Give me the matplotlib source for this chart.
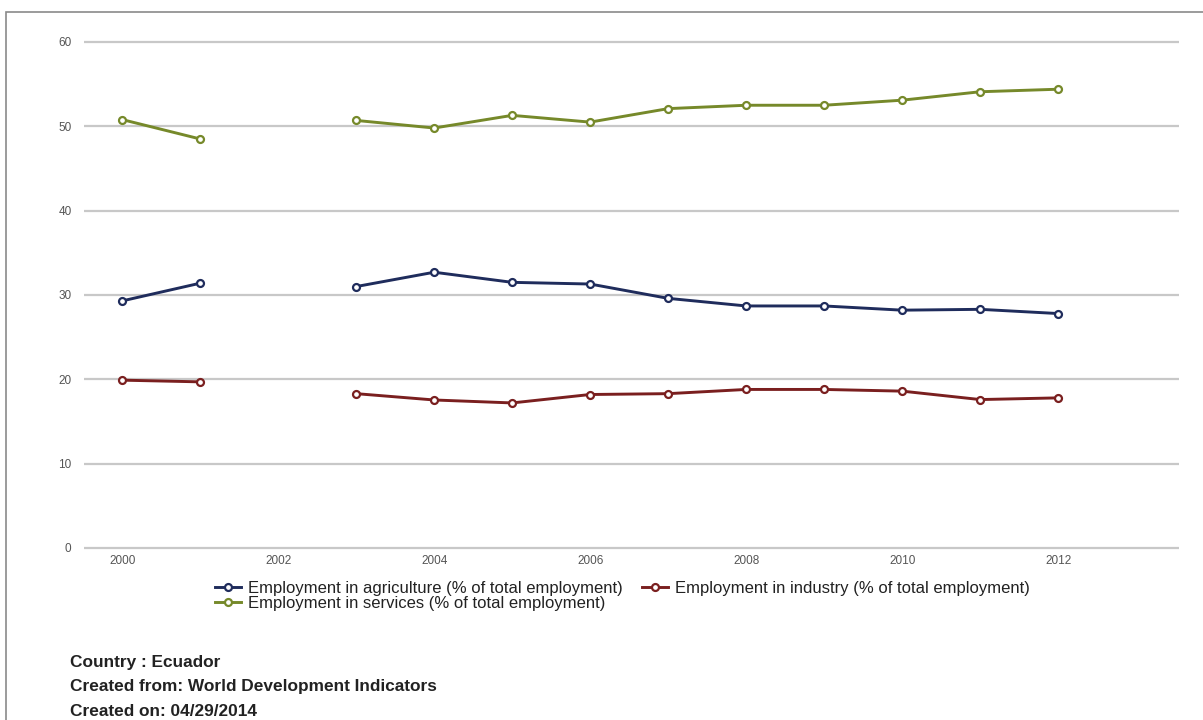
import numpy as np
import matplotlib
matplotlib.use("Agg")
import matplotlib.pyplot as plt
from matplotlib.patches import Rectangle

plt.rcParams['font.family'] = ['Liberation Sans', 'DejaVu Sans']

years = [2000, 2001, 2002, 2003, 2004, 2005, 2006, 2007, 2008, 2009, 2010, 2011, 2012]
agriculture = [29.3, 31.4, np.nan, 31.0, 32.7, 31.5, 31.3, 29.6, 28.7, 28.7, 28.2, 28.3, 27.8]
industry = [19.9, 19.7, np.nan, 18.3, 17.55, 17.2, 18.2, 18.3, 18.8, 18.8, 18.6, 17.6, 17.8]
services = [50.8, 48.5, np.nan, 50.7, 49.8, 51.3, 50.5, 52.1, 52.5, 52.5, 53.1, 54.1, 54.4]

labels = ["Employment in agriculture (% of total employment)",
          "Employment in industry (% of total employment)",
          "Employment in services (% of total employment)"]
colors = ["#1f2c5c", "#7a1f1f", "#76892a"]

y_ticks = [0, 10, 20, 30, 40, 50, 60]
x_ticks = [2000, 2002, 2004, 2006, 2008, 2010, 2012]

W, H = 1203, 720
fig = plt.figure(figsize=(W / 100, H / 100), dpi=100)
fig.patch.set_facecolor("white")

# outer frame
fig.add_artist(Rectangle((6 / W, -0.01), 1.2, 1 - 12 / H + 0.01, transform=fig.transFigure,
                         fill=False, edgecolor="#8a8a8a", linewidth=1.2))

ax_bottom_px = 552.2
ax_top_px = 16.7
ax = fig.add_axes([84 / W, (H - ax_bottom_px) / H, 1095 / W, (ax_bottom_px - ax_top_px) / H])
ax.set_xlim(1999.51, 2013.55)
ax.set_ylim(-0.5, 63)
for s in ax.spines.values():
    s.set_visible(False)
ax.set_yticks(y_ticks)
ax.set_xticks(x_ticks)
ax.grid(axis="y", color="#c8c8c8", linewidth=1.6)
ax.grid(axis="x", visible=False)
ax.set_axisbelow(True)
ax.tick_params(axis="both", length=0, labelsize=8.5, labelcolor="#555555")
ax.tick_params(axis="y", pad=9)
ax.tick_params(axis="x", pad=2)

series = [agriculture, industry, services]
handles = []
for vals, lab, col in zip(series, labels, colors):
    h, = ax.plot(years, vals, color=col, linewidth=2.1, marker="o", markersize=5,
                 markerfacecolor="white", markeredgecolor=col, markeredgewidth=1.6,
                 label=lab)
    handles.append(h)

leg = fig.legend([handles[0], handles[2], handles[1]],
                 [labels[0], labels[2], labels[1]],
                 ncol=2, loc="upper left", bbox_to_anchor=(215 / W, 1 - 581 / H),
                 frameon=False, fontsize=12, handlelength=1.55, handletextpad=0.4,
                 columnspacing=1.2, labelspacing=0.0, borderpad=0, borderaxespad=0)
for t in leg.get_texts():
    t.set_color("#222222")

fig.text(70 / W, 1 - 662 / H, "Country : Ecuador", fontsize=12.4, fontweight="bold",
         color="#222222", va="center")
fig.text(70 / W, 1 - 687 / H, "Created from: World Development Indicators", fontsize=12.4,
         fontweight="bold", color="#222222", va="center")
fig.text(70 / W, 1 - 711 / H, "Created on: 04/29/2014", fontsize=12.4, fontweight="bold",
         color="#222222", va="center")

fig.savefig("out.png", dpi=100)
